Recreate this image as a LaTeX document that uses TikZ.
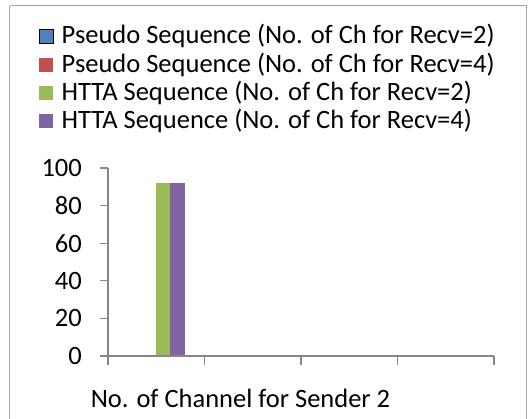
\documentclass[tikz,border=0pt]{standalone}
\usepackage{fontspec}
\setmainfont{Carlito}
\definecolor{frameGray}{HTML}{A6A6A6}
\definecolor{axisGray}{HTML}{868686}
\definecolor{serBlue}{HTML}{4F81BD}
\definecolor{serRed}{HTML}{C0504D}
\definecolor{serGreen}{HTML}{9BBB59}
\definecolor{serPurple}{HTML}{8064A2}
\begin{document}
\begin{tikzpicture}[x=1pt,y=-1pt,
  lbl/.style={font=\fontsize{26.5}{30}\selectfont, inner sep=0pt},
  legtext/.style={lbl, anchor=west},
  ticklbl/.style={lbl, anchor=east},
  axisline/.style={draw=axisGray, line width=1.3pt},
  keybox/.style={minimum size=14pt, inner sep=0pt}]
\useasboundingbox (0,0) rectangle (530,418);
% chart frame
\draw[frameGray, line width=1.3pt] (9.5,5.5) -- (526.5,5.5) -- (526.5,430) (9.5,5.5) -- (9.5,430);
% legend
\node[keybox, fill=serBlue, draw=black, line width=1pt] (k1) at (46,36) {};
\node[keybox, fill=serRed] (k2) at (46,64.5) {};
\node[keybox, fill=serGreen] (k3) at (46,93) {};
\node[keybox, fill=serPurple] (k4) at (46,121) {};
\node[legtext] (t1) at (61.5,36) {Pseudo Sequence (No. of Ch for Recv=2)};
\node[legtext] (t2) at (61.5,64.5) {Pseudo Sequence (No. of Ch for Recv=4)};
\node[legtext] (t3) at (61.5,93) {HTTA Sequence (No. of Ch for Recv=2)};
\node[legtext] (t4) at (61.5,121) {HTTA Sequence (No. of Ch for Recv=4)};
% bars (value 92 on a 0--100 scale)
\fill[serGreen] (155.7,356) rectangle (170,182.7);
\fill[serPurple] (170,356) rectangle (184.5,182.7);
% axes
\coordinate (o) at (108,356);
\draw[axisline] (108,168) -- (o) -- (494,356);
\foreach \v [count=\i from 0] in {0,20,40,60,80,100} {
  \draw[axisline] (100,356-37.6*\i) -- (108,356-37.6*\i);
  \node[ticklbl] (y\v) at (82,356-37.6*\i) {\v};
}
\foreach \xx in {108,204.5,301,397.5,494} {
  \draw[axisline] (\xx,356) -- (\xx,365);
}
\node[lbl] (xt) at (240.5,398) {No. of Channel for Sender 2};
\end{tikzpicture}
\end{document}
